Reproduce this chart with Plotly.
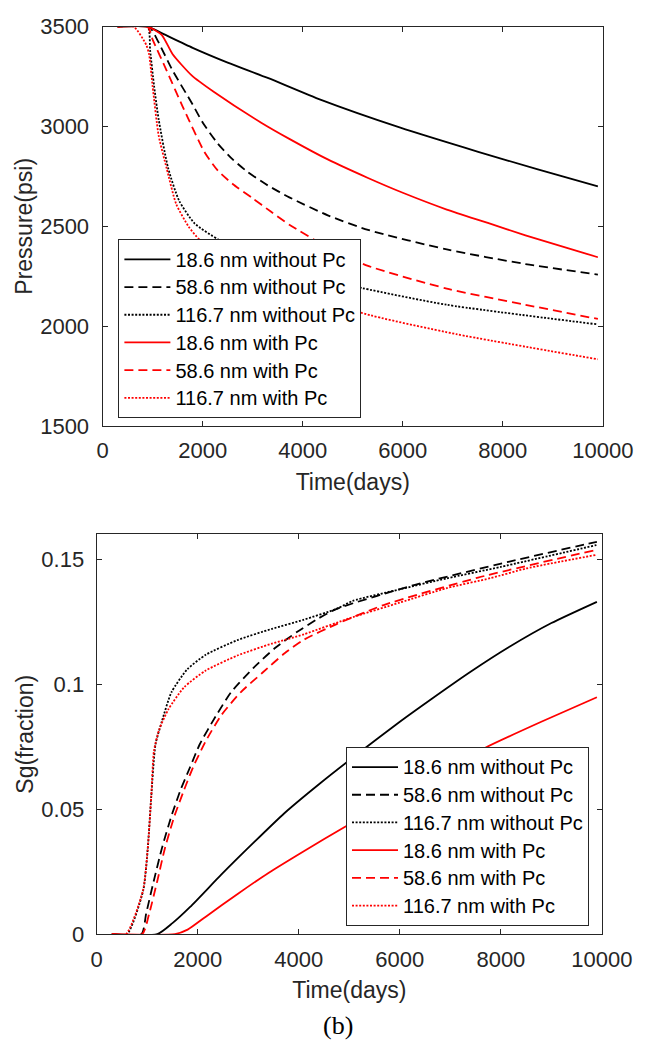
import plotly.graph_objects as go

# ---------------- data ----------------
series_labels = [
    "18.6 nm without Pc",
    "58.6 nm without Pc",
    "116.7 nm without Pc",
    "18.6 nm with Pc",
    "58.6 nm with Pc",
    "116.7 nm with Pc",
]

# Pressure (psi) vs time (days)
t_p_186_wo = [300, 900, 1200, 1800, 2500, 3300, 4366, 5936, 7508, 8700, 9900]
p_186_wo = [3500, 3500, 3465, 3394, 3320, 3243, 3133, 2995, 2873, 2785, 2700]

t_p_586_wo = [300, 930, 1100, 1400, 1800, 2000, 2300, 2600, 2900, 3300, 3732, 4500, 5305, 6879, 8452, 9900]
p_586_wo = [3500, 3500, 3430, 3280, 3110, 3020, 2915, 2835, 2772, 2705, 2645, 2555, 2482, 2384, 2311, 2258]

t_p_1167_wo = [300, 900, 950, 1030, 1120, 1310, 1530, 1840, 2320, 3000, 4000, 5180, 6879, 9890]
p_1167_wo = [3500, 3500, 3380, 3200, 3036, 2791, 2628, 2514, 2433, 2350, 2262, 2191, 2107, 2009]

t_p_186_w = [300, 900, 1180, 1400, 1780, 2220, 3170, 3732, 4500, 5305, 6000, 6879, 7700, 8452, 9900]
p_186_w = [3500, 3500, 3459, 3362, 3256, 3174, 3019, 2938, 2835, 2742, 2668, 2584, 2517, 2455, 2345]

t_p_586_w = [300, 900, 1000, 1280, 1600, 2033, 2300, 2600, 3000, 3355, 3732, 4500, 5305, 6879, 8452, 9900]
p_586_w = [3500, 3500, 3435, 3280, 3100, 2873, 2780, 2712, 2640, 2575, 2508, 2395, 2302, 2188, 2107, 2036]

t_p_1167_w = [300, 620, 870, 930, 1000, 1120, 1280, 1470, 1720, 1940, 2400, 3200, 4200, 5180, 7068, 9900]
p_1167_w = [3500, 3500, 3410, 3360, 3200, 2955, 2791, 2612, 2498, 2433, 2360, 2260, 2160, 2066, 1960, 1834]

# Gas saturation Sg (fraction) vs time (days)
t_s_186_wo = [300, 1200, 1500, 1850, 2470, 3100, 3720, 4400, 5250, 6000, 6620, 7400, 8170, 9000, 9900]
s_186_wo = [0, 0, 0.0044, 0.0109, 0.0239, 0.0365, 0.0485, 0.060, 0.0735, 0.085, 0.094, 0.105, 0.115, 0.1245, 0.133]

t_s_586_wo = [300, 885, 980, 1130, 1290, 1480, 1660, 1850, 2040, 2350, 2660, 3100, 3530, 3970, 4400, 4750, 6300, 8170, 9670, 9900]
s_586_wo = [0, 0, 0.0083, 0.0213, 0.0343, 0.0473, 0.0577, 0.0669, 0.076, 0.087, 0.0968, 0.1065, 0.1145, 0.1210, 0.1265, 0.1302, 0.1398, 0.1491, 0.156, 0.157]

t_s_1167_wo = [300, 600, 920, 1010, 1080, 1165, 1290, 1480, 1790, 2160, 2790, 3470, 4090, 4750, 5060, 6000, 6930, 8000, 9890]
s_1167_wo = [0, 0, 0.0174, 0.034, 0.055, 0.076, 0.0851, 0.0968, 0.1059, 0.1118, 0.1177, 0.1222, 0.1258, 0.1302, 0.1333, 0.138, 0.1424, 0.147, 0.1557]

t_s_186_w = [300, 1550, 1800, 2160, 2790, 3400, 4100, 4900, 5800, 6700, 7700, 8800, 9900]
s_186_w = [0, 0, 0.0018, 0.007, 0.0161, 0.0245, 0.0332, 0.0428, 0.053, 0.0635, 0.0747, 0.085, 0.0948]

t_s_586_w = [300, 900, 1040, 1200, 1350, 1540, 1730, 1910, 2160, 2470, 2850, 3280, 3720, 4090, 4750, 5680, 7550, 9890]
s_586_w = [0, 0, 0.0083, 0.0213, 0.0343, 0.0473, 0.0577, 0.0669, 0.0773, 0.0877, 0.0968, 0.1046, 0.1124, 0.1177, 0.1241, 0.1317, 0.1427, 0.1538]

t_s_1167_w = [300, 580, 916, 1010, 1080, 1134, 1240, 1420, 1730, 2160, 2785, 3470, 4100, 5060, 6000, 6930, 7800, 8490, 9890]
s_1167_w = [0, 0, 0.0174, 0.034, 0.055, 0.0734, 0.082, 0.090, 0.0988, 0.1055, 0.1115, 0.1163, 0.1200, 0.1268, 0.1327, 0.1385, 0.1425, 0.1463, 0.1518]

x_ticks = [0, 2000, 4000, 6000, 8000, 10000]
x_tick_text = ["0", "2000", "4000", "6000", "8000", "10000"]
p_ticks = [1500, 2000, 2500, 3000, 3500]
s_ticks = [0, 0.05, 0.1, 0.15]
s_tick_text = ["0", "0.05", "0.1", "0.15"]

# ---------------- styling ----------------
BLACK = "#000000"
RED = "#ff0000"
DASH = "9px,5px"
DOT = "2px,1.6px"
styles = [
    (BLACK, "solid"), (BLACK, DASH), (BLACK, DOT),
    (RED, "solid"), (RED, DASH), (RED, DOT),
]
FONT = "Liberation Sans, Arial, sans-serif"
AXC = "#262626"
LEGEND_TEXT_PX = 20

top_series = [
    (t_p_186_wo, p_186_wo), (t_p_586_wo, p_586_wo), (t_p_1167_wo, p_1167_wo),
    (t_p_186_w, p_186_w), (t_p_586_w, p_586_w), (t_p_1167_w, p_1167_w),
]
bot_series = [
    (t_s_186_wo, s_186_wo), (t_s_586_wo, s_586_wo), (t_s_1167_wo, s_1167_wo),
    (t_s_186_w, s_186_w), (t_s_586_w, s_586_w), (t_s_1167_w, s_1167_w),
]


def legend_name(label):
    # legend rows are spaced by the legend font size; the label itself is a bit larger
    return f'<span style="font-size:{LEGEND_TEXT_PX}px">{label}</span>'


fig = go.Figure()

for (tx, ty), name, (col, dash) in zip(top_series, series_labels, styles):
    fig.add_trace(go.Scatter(
        x=tx, y=ty, mode="lines", name=legend_name(name),
        line=dict(color=col, dash=dash, width=1.8, shape="spline", smoothing=0.6),
        xaxis="x", yaxis="y", legend="legend",
    ))

for (tx, ty), name, (col, dash) in zip(bot_series, series_labels, styles):
    fig.add_trace(go.Scatter(
        x=tx, y=ty, mode="lines", name=legend_name(name),
        line=dict(color=col, dash=dash, width=1.8, shape="spline", smoothing=0.6),
        xaxis="x2", yaxis="y2", legend="legend2",
    ))

W, H = 666, 1057


def axis_common():
    return dict(
        showline=True, linecolor=AXC, linewidth=1.2, mirror="ticks",
        ticks="inside", ticklen=5, tickwidth=1, tickcolor=AXC,
        showgrid=False, zeroline=False,
        tickfont=dict(family=FONT, size=22, color=AXC),
        title_font=dict(family=FONT, size=23, color=AXC),
    )


legend_common = dict(
    bgcolor="white", bordercolor=AXC, borderwidth=1,
    font=dict(family=FONT, size=19, color="#000000"),
    xanchor="left", yanchor="top", itemwidth=46,
    tracegroupgap=0,
)

fig.update_layout(
    width=W, height=H,
    margin=dict(l=0, r=0, t=0, b=0),
    paper_bgcolor="white", plot_bgcolor="white",
    showlegend=True,
    xaxis=dict(axis_common(), domain=[102.3 / W, 632 / W], range=[0, 10000],
               tickvals=x_ticks, ticktext=x_tick_text, title_text="Time(days)",
               anchor="y", title_standoff=11, ticklabelstandoff=5),
    yaxis=dict(axis_common(), domain=[1 - 424 / H, 1 - 15 / H], range=[1500, 3500],
               tickvals=p_ticks, title_text="Pressure(psi)", anchor="x",
               title_standoff=1, ticklabelstandoff=8),
    xaxis2=dict(axis_common(), domain=[96 / W, 631 / W], range=[0, 10000],
                tickvals=x_ticks, ticktext=x_tick_text, title_text="Time(days)",
                anchor="y2", title_standoff=11, ticklabelstandoff=5),
    yaxis2=dict(axis_common(), domain=[1 - 944.5 / H, 1 - 535 / H], range=[0, 0.16],
                tickvals=s_ticks, ticktext=s_tick_text, title_text="Sg(fraction)",
                anchor="x2", title_standoff=1, ticklabelstandoff=7),
    legend=dict(legend_common, x=119 / W, y=1 - 233 / H),
    legend2=dict(legend_common, x=360 / W, y=1 - 753 / H),
    annotations=[dict(
        text="(b)", xref="paper", yref="paper", x=352 / W, y=1 - 1038 / H,
        showarrow=False, xanchor="center", yanchor="middle",
        font=dict(family="Liberation Serif, Times New Roman, serif", size=26, color="#000000"),
    )],
)

fig.write_html("out.html")
